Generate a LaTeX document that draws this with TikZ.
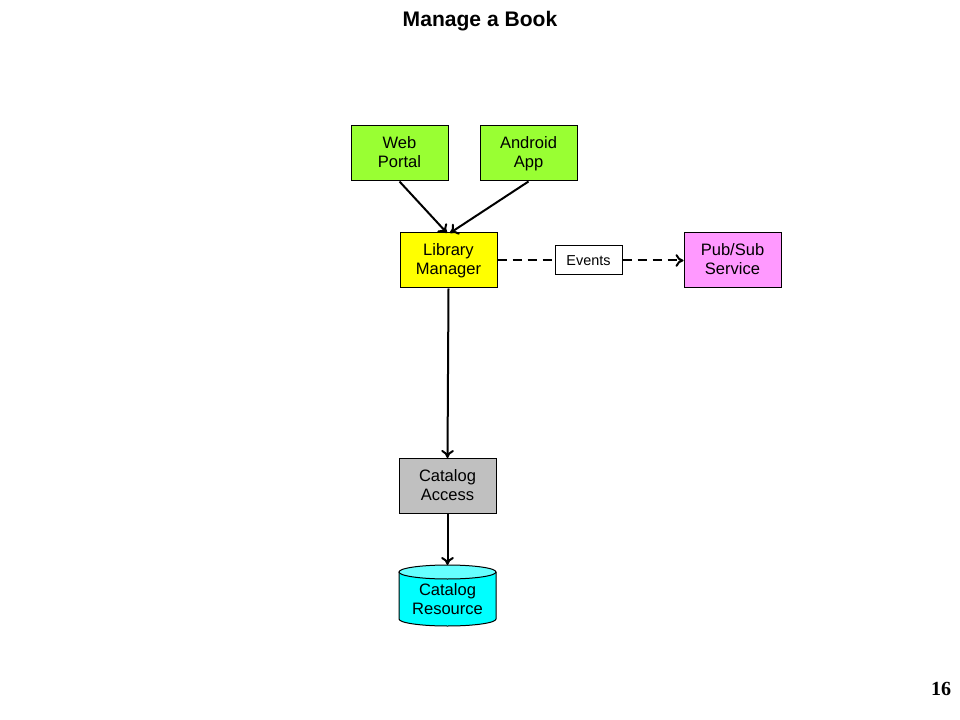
\documentclass[tikz,border=0pt]{standalone}
\usepackage{fontspec}
\setmainfont{Liberation Sans}
\newfontfamily\serifnum{Liberation Serif}
\usetikzlibrary{shapes.geometric,arrows.meta}
\definecolor{boxgreen}{HTML}{99FF33}
\definecolor{boxyellow}{HTML}{FFFF00}
\definecolor{boxpink}{HTML}{FF99FF}
\definecolor{boxgray}{HTML}{C0C0C0}
\definecolor{boxcyan}{HTML}{00FFFF}
\definecolor{topcyan}{HTML}{66FFFF}
\newcommand{\topstrut}{\rule{0pt}{12.6pt}}
\newcommand{\botstrut}{\rule[-1.5pt]{0pt}{1.5pt}}
\tikzset{
  boxtext/.style={align=center, font=\fontsize{12.4}{14.25}\selectfont,
    execute at begin node=\topstrut, execute at end node=\botstrut},
  comp/.style={draw=black, line width=0.75pt, minimum width=72.75pt, minimum height=41.25pt,
    inner sep=0pt, boxtext},
  evbox/.style={draw=black, line width=0.75pt, fill=white, minimum width=50.25pt, minimum height=21.75pt,
    inner sep=0pt, font=\fontsize{10.8}{12}\selectfont},
  tip/.style={-{To[length=6pt,width=9.5pt,line width=1.5pt]}},
  conn/.style={line width=1.5pt, tip},
  dconn/.style={line width=1.5pt, dash pattern=on 6.75pt off 4.5pt},
  cylline/.style={draw=black, line width=0.75pt},
}
\begin{document}
\begin{tikzpicture}[x=0.75pt,y=-0.75pt]
\useasboundingbox (0,0) rectangle (960,720);
\node[font=\fontsize{15.8}{17}\selectfont\bfseries] (title) at (480,21) {Manage a Book};
\node[comp, fill=boxgreen] (web) at (399.5,153.5) {Web\\Portal};
\node[comp, fill=boxgreen] (android) at (528.5,153.5) {Android\\App};
\node[comp, fill=boxyellow] (lm) at (448.5,260.5) {Library\\Manager};
\node[evbox] (events) at (588.5,260.5) {Events};
\node[comp, fill=boxpink] (pubsub) at (732.5,260.5) {Pub/Sub\\Service};
\node[comp, fill=boxgray] (ca) at (447.5,486) {Catalog\\Access};
% cylinder (Catalog Resource)
\fill[boxcyan] (399,572) -- (399,619) arc[start angle=180, end angle=0, x radius=48.5, y radius=7]
  -- (496,572) -- cycle;
\draw[cylline] (399,572) -- (399,619) arc[start angle=180, end angle=0, x radius=48.5, y radius=7]
  -- (496,572);
\draw[cylline, fill=topcyan] (447.5,572) ellipse[x radius=48.5, y radius=7];
\coordinate (crtop) at (447.5,565);
\node[boxtext, inner sep=0pt] (cr) at (447.5,600.5) {Catalog\\Resource};
\node[font=\serifnum\fontsize{15}{17}\selectfont\bfseries] (pg) at (941,689) {16};
\coordinate (lmin1) at (447,233);
\coordinate (lmin2) at (450,233);
\draw[conn] (web.south) -- (lmin1);
\draw[conn] (android.south) -- (lmin2);
\draw[conn] (lm.south) -- (ca.north);
\draw[conn] (ca.south) -- (crtop);
\draw[dconn] (lm.east) -- (events.west);
\draw[dconn, tip] (events.east) -- (pubsub.west);
\end{tikzpicture}
\end{document}
